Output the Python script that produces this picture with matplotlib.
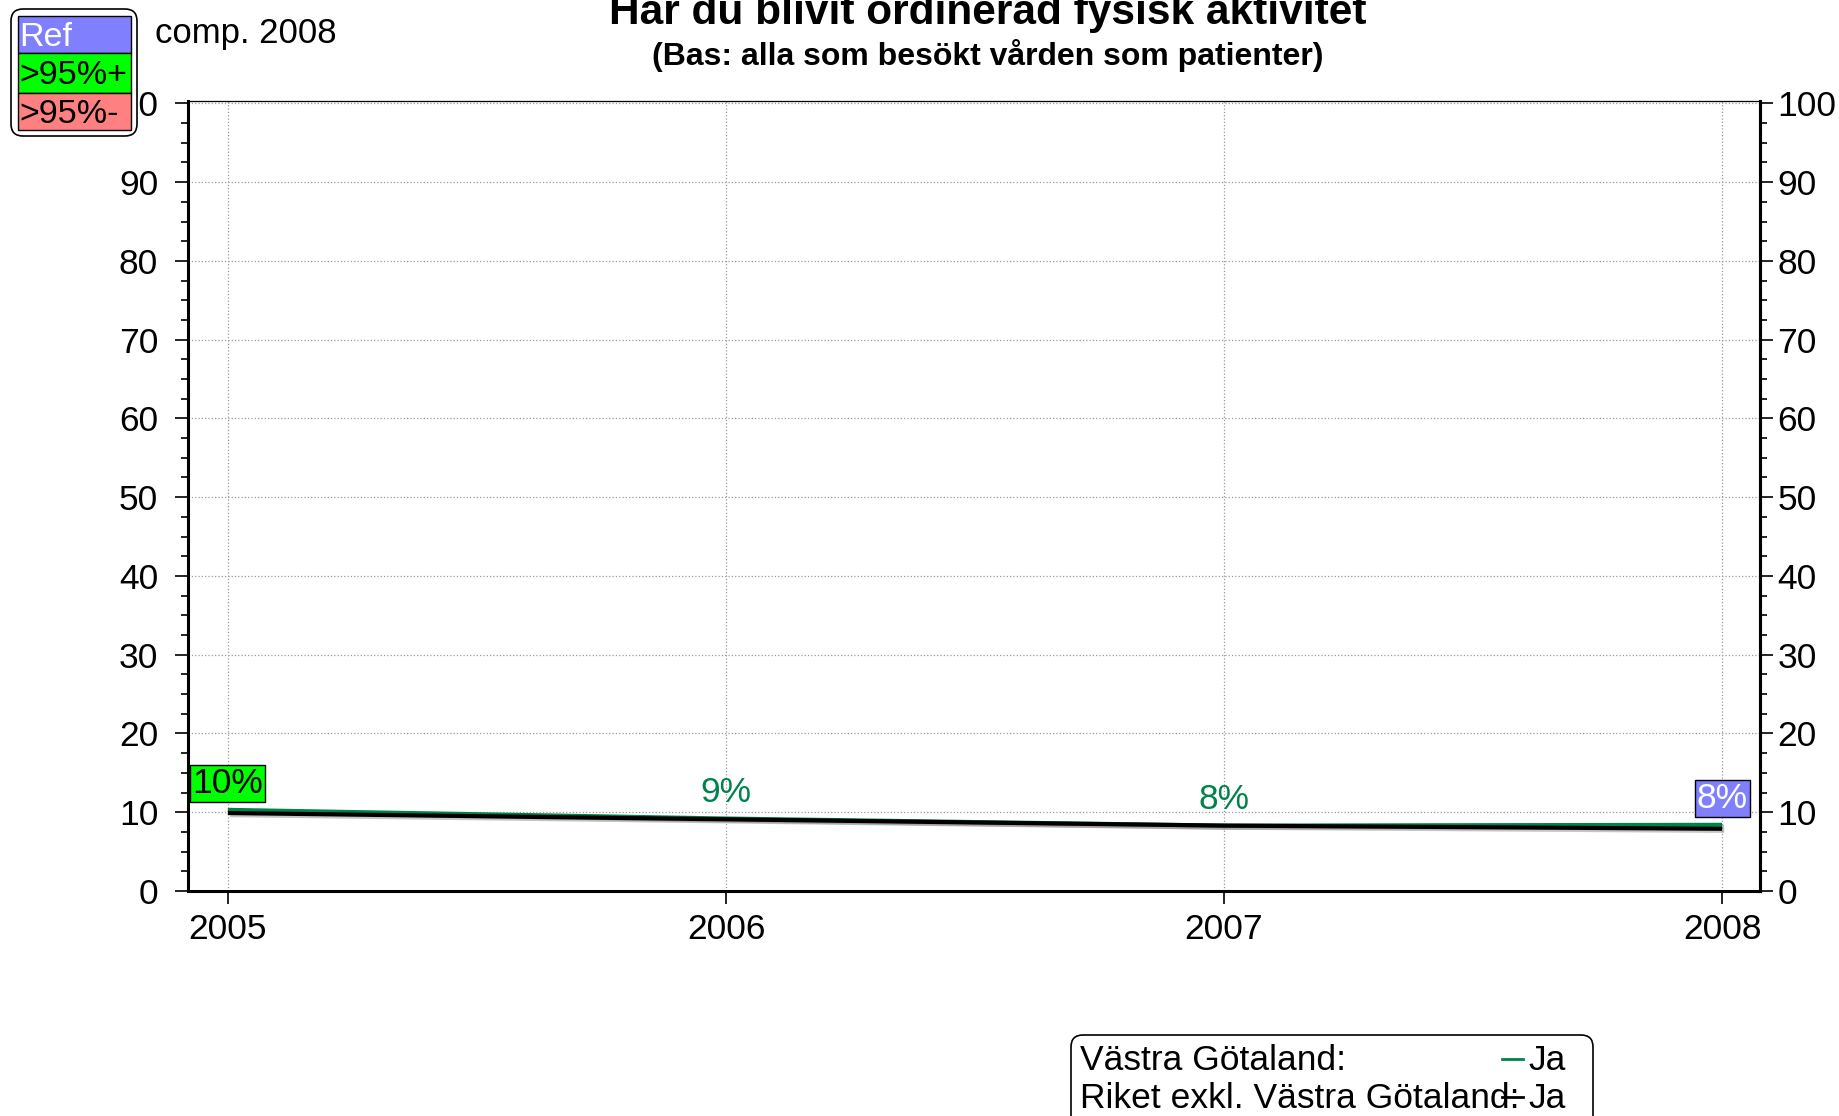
import matplotlib
matplotlib.use("Agg")
import matplotlib.pyplot as plt
import matplotlib.patheffects as pe
from matplotlib.patches import FancyBboxPatch, Rectangle
from matplotlib.lines import Line2D
from matplotlib.ticker import MultipleLocator

plt.rcParams['font.family'] = ['Liberation Sans', 'DejaVu Sans']

# data
years = [2005, 2006, 2007, 2008]
vg = [10.3, 9.2, 8.3, 8.4]          # Västra Götaland
riket = [9.9, 9.1, 8.3, 7.9]        # Riket exkl. Västra Götaland
vg_labels = ['10%', '9%', '8%', '8%']
label_kind = ['plus', 'plain', 'plain', 'ref']
series_names = ['Västra Götaland:', 'Riket exkl. Västra Götaland:']
answer = 'Ja'
y_ticks = list(range(0, 101, 10))

title = 'Har du blivit ordinerad fysisk aktivitet'
subtitle = '(Bas: alla som besökt vården som patienter)'
comp_text = 'comp. 2008'
key_labels = ['Ref', '>95%+', '>95%-']
key_colors = ['#8080ff', '#00ff00', '#ff8080']
key_text = ['white', 'black', 'black']

green = '#00834a'
fs = 25.5

W, H = 1840, 1116
fig = plt.figure(figsize=(W / 100, H / 100), dpi=100)

def fx(px):
    return px / W

def fy(py):
    return 1 - py / H

# inches helpers (isotropic, for rounded boxes)
def ix(px):
    return px / 100

def iy(py):
    return (H - py) / 100

ax = fig.add_axes([fx(188), fy(891), fx(1760) - fx(188), fy(101) - fy(891)])
ax.set_xlim(2004.92, 2008.076)
ax.set_ylim(0, 100.3)

shadow = [pe.SimpleLineShadow(offset=(1.5, -1.5), shadow_color='gray', alpha=0.45), pe.Normal()]
ax.plot(years, vg, color=green, lw=3, path_effects=shadow, zorder=3, solid_capstyle='butt')
ax.plot(years, riket, color='black', lw=3, path_effects=shadow, zorder=4, solid_capstyle='butt')

for yr, v, lab, kind in zip(years, vg, vg_labels, label_kind):
    if kind == 'plus':
        kw = dict(color='black', bbox=dict(boxstyle='square,pad=0.06', fc='#00ff00', ec='black', lw=1))
    elif kind == 'ref':
        kw = dict(color='white', bbox=dict(boxstyle='square,pad=0.06', fc='#8080ff', ec='black', lw=1))
    else:
        kw = dict(color=green)
    ax.annotate(lab, (yr, v), xytext=(0, 19), textcoords='offset points',
                ha='center', va='center', fontsize=fs, zorder=6,
                annotation_clip=False, **kw)

# axes styling
ax.set_xticks(years)
ax.set_yticks(y_ticks)
ax.yaxis.set_minor_locator(MultipleLocator(2.5))
ax.grid(True, which='major', color='#9a9a9a', linestyle=':', linewidth=0.9)
ax.tick_params(axis='y', which='major', direction='out', length=9.5, width=1.2,
               labelsize=fs, pad=12)
ax.tick_params(axis='y', which='minor', direction='out', length=5, width=1.2)
ax.tick_params(axis='x', direction='out', length=9.5, width=1.2, labelsize=fs, pad=6)
for side in ['left', 'bottom']:
    ax.spines[side].set_linewidth(2.2)
ax.spines['top'].set_linewidth(0.9)
ax.spines['right'].set_linewidth(2.2)

ax2 = ax.twinx()
ax2.set_ylim(ax.get_ylim())
ax2.set_yticks(y_ticks)
ax2.yaxis.set_minor_locator(MultipleLocator(2.5))
ax2.tick_params(axis='y', which='major', direction='out', length=9.5, width=1.2,
                labelsize=fs, pad=3)
ax2.tick_params(axis='y', which='minor', direction='out', length=5, width=1.2)
ax2.spines['right'].set_linewidth(2.2)
for s in ['left', 'top', 'bottom']:
    ax2.spines[s].set_visible(False)

# titles
fig.text(fx(988), fy(24), title, ha='center', va='baseline', fontsize=30.5, weight='bold')
fig.text(fx(988), fy(55), subtitle, ha='center', va='center', fontsize=23, weight='bold')

# key top-left
fig.add_artist(FancyBboxPatch((ix(11), iy(136)), ix(137) - ix(11), iy(9) - iy(136),
                              boxstyle='round,pad=0,rounding_size=0.12',
                              fc='white', ec='black', lw=1.2,
                              transform=fig.dpi_scale_trans, zorder=10))
key_edges = [16, 53, 93, 130]
for i, (lab, c, tc) in enumerate(zip(key_labels, key_colors, key_text)):
    top, bot = key_edges[i], key_edges[i + 1]
    fig.add_artist(Rectangle((ix(18), iy(bot)), ix(131) - ix(18), iy(top) - iy(bot),
                             fc=c, ec='black', lw=1, transform=fig.dpi_scale_trans, zorder=11))
    fig.text(fx(19), fy((top + bot) / 2 + 3), lab, ha='left', va='center',
             fontsize=24.5, color=tc, zorder=12)
fig.text(fx(155), fy(33), comp_text, ha='left', va='center', fontsize=25)

# bottom legend
fig.add_artist(FancyBboxPatch((ix(1071), iy(1150)), ix(1593) - ix(1071), iy(1035) - iy(1150),
                              boxstyle='round,pad=0,rounding_size=0.12',
                              fc='white', ec='black', lw=1.2,
                              transform=fig.dpi_scale_trans, zorder=10))
for name, col, yrow in zip(series_names, [green, 'black'], [1061, 1099]):
    fig.text(fx(1080), fy(yrow), name, ha='left', va='center', fontsize=fs, zorder=11)
    fig.add_artist(Line2D([fx(1502), fx(1523)], [fy(yrow - 2), fy(yrow - 2)], color=col, lw=2,
                          transform=fig.transFigure, zorder=12))
    fig.text(fx(1528), fy(yrow), answer, ha='left', va='center', fontsize=fs, zorder=11)

fig.savefig('out.png', dpi=100)
